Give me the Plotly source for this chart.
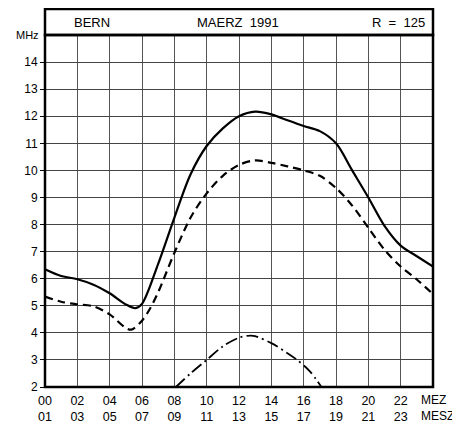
import plotly.graph_objects as go

# Data
hours_solid = [0, 1, 2, 3, 4, 5, 5.6, 6, 7, 8, 9, 10, 11, 12, 13, 14, 15, 16, 17, 18, 19, 20, 21, 22, 23, 24]
mhz_solid = [6.35, 6.1, 5.98, 5.78, 5.46, 5.05, 4.91, 5.07, 6.55, 8.25, 9.85, 10.9, 11.55, 12.0, 12.17, 12.07,
             11.85, 11.64, 11.45, 11.0, 10.0, 9.0, 7.95, 7.22, 6.83, 6.45]

hours_dashed = [0, 1, 2, 3, 4, 5, 5.35, 6, 6.5, 7, 8, 9, 10, 11, 12, 13, 14, 15, 16, 17, 18, 19, 20, 21, 22, 23, 24]
mhz_dashed = [5.34, 5.15, 5.05, 4.98, 4.68, 4.18, 4.12, 4.45, 4.9, 5.5, 6.95, 8.25, 9.15, 9.8, 10.2, 10.37, 10.28,
              10.15, 10.0, 9.8, 9.35, 8.7, 7.88, 7.07, 6.45, 5.97, 5.43]

hours_dashdot = [8.1, 9, 10, 11, 12, 12.7, 13, 14, 15, 15.6, 16.4, 17.1]
mhz_dashdot = [2.0, 2.5, 3.0, 3.5, 3.82, 3.9, 3.88, 3.62, 3.25, 3.0, 2.57, 2.0]

x_tickvals = [0, 2, 4, 6, 8, 10, 12, 14, 16, 18, 20, 22]
x_ticktext = ["00<br>01", "02<br>03", "04<br>05", "06<br>07", "08<br>09", "10<br>11",
              "12<br>13", "14<br>15", "16<br>17", "18<br>19", "20<br>21", "22<br>23"]
y_tickvals = list(range(2, 15))

FONT = "Liberation Sans, Arial, sans-serif"

fig = go.Figure()
fig.add_trace(go.Scatter(x=hours_solid, y=mhz_solid, mode="lines",
                         line=dict(color="black", width=2.2, shape="spline", smoothing=0.9)))
fig.add_trace(go.Scatter(x=hours_dashed, y=mhz_dashed, mode="lines",
                         line=dict(color="black", width=2.2, shape="spline", smoothing=0.9, dash="8px,5px")))
fig.add_trace(go.Scatter(x=hours_dashdot, y=mhz_dashdot, mode="lines",
                         line=dict(color="black", width=1.8, shape="spline", smoothing=0.9, dash="12px,4px,2px,4px")))

# The page body has an 8px margin, so the figure is drawn 8px smaller
fig.update_layout(
    width=452, height=415,
    margin=dict(l=37, r=27, t=27, b=36),
    paper_bgcolor="white", plot_bgcolor="white",
    showlegend=False,
    font=dict(family=FONT, size=12, color="black"),
    xaxis=dict(range=[0, 24], tickvals=x_tickvals, ticktext=x_ticktext,
               showgrid=True, gridcolor="#555", gridwidth=1,
               ticks="", showline=False, zeroline=False, automargin=False,
               ticklabelstandoff=4, tickfont=dict(size=12.5)),
    yaxis=dict(range=[2, 15], tickvals=y_tickvals,
               showgrid=True, gridcolor="#444", gridwidth=1,
               ticks="outside", ticklen=4, tickcolor="black", automargin=False,
               showline=False, zeroline=False, tickfont=dict(size=12)),
)

# plot frame
fig.add_shape(type="rect", xref="paper", yref="paper", x0=0, x1=1, y0=0, y1=1,
              line=dict(color="black", width=2.5))
# title box
fig.add_shape(type="rect", xref="paper", yref="paper", x0=0, x1=1, y0=1, y1=1 + 26 / 352,
              line=dict(color="black", width=2.5))

ty = 1 + 13 / 352
fig.add_annotation(xref="paper", yref="paper", x=47 / 388, y=ty, text="BERN",
                   showarrow=False, xanchor="center", yanchor="middle", font=dict(size=13))
fig.add_annotation(xref="paper", yref="paper", x=193 / 388, y=ty, text="MAERZ  1991",
                   showarrow=False, xanchor="center", yanchor="middle", font=dict(size=13))
fig.add_annotation(xref="paper", yref="paper", x=382 / 388, y=ty, text="R  =  125",
                   showarrow=False, xanchor="right", yanchor="middle", font=dict(size=13))
fig.add_annotation(xref="paper", yref="paper", x=-4 / 388, y=1, text="MHz",
                   showarrow=False, xanchor="right", yanchor="middle", font=dict(size=11))
fig.add_annotation(xref="paper", yref="paper", x=374 / 388, y=-13 / 352, text="MEZ",
                   showarrow=False, xanchor="left", yanchor="middle", font=dict(size=12))
fig.add_annotation(xref="paper", yref="paper", x=374 / 388, y=-29 / 352, text="MESZ",
                   showarrow=False, xanchor="left", yanchor="middle", font=dict(size=12))

fig.write_html("out.html")
